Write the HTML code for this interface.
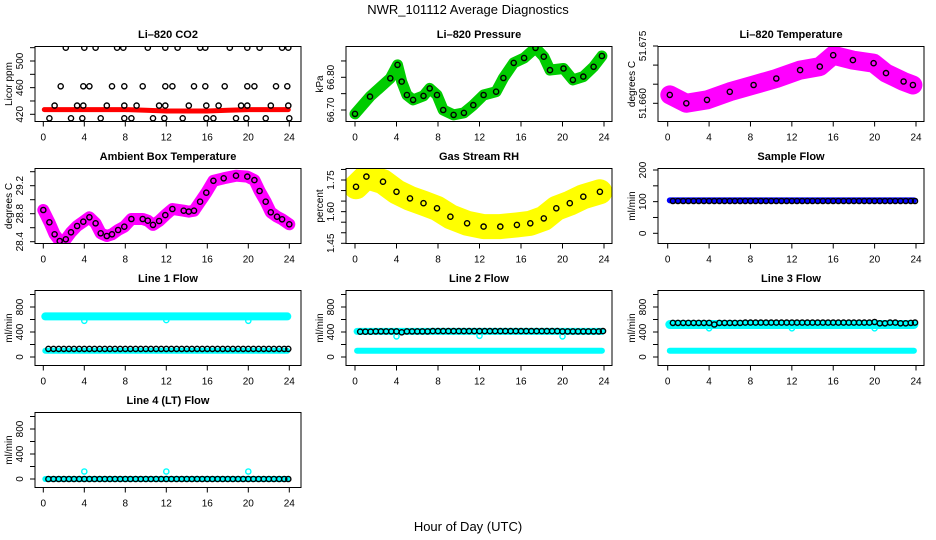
<!DOCTYPE html>
<html><head><meta charset="utf-8"><style>
html,body{margin:0;padding:0;background:#fff;}
svg{display:block;font-family:"Liberation Sans",Arial,sans-serif;}
</style></head><body>
<svg id="chart" width="936" height="540" viewBox="0 0 936 540">
<text x="468" y="14" text-anchor="middle" font-size="13">NWR_101112  Average Diagnostics</text>
<text x="468" y="531" text-anchor="middle" font-size="13">Hour of Day (UTC)</text>
</svg>
<script>
// ---------- data ----------
const xTicks=[0,4,8,12,16,20,24];
const blackHours=[0.5,1.0,1.5,2.0,2.5,3.0,3.5,4.0,4.5,5.0,5.5,6.0,6.5,7.0,7.5,8.0,8.5,9.0,9.5,10.0,10.5,11.0,11.5,12.0,12.5,13.0,13.5,14.0,14.5,15.0,15.5,16.0,16.5,17.0,17.5,18.0,18.5,19.0,19.5,20.0,20.5,21.0,21.5,22.0,22.5,23.0,23.5,23.9];
const outlierHours=[4,12,20];

const co2BandHours=[0.1,2,4,6,8,10,12,14,16,18,20,22,23.9];
const co2BandVals=[427,427,427,427,427,426,425,425,425,426,427,427,427];
const co2PtHours=[2.2,4.0,5.1,7.2,7.8,10.2,11.9,13.1,15.3,15.8,18.2,19.9,21.1,23.3,23.9,
 1.7,3.9,4.5,6.7,7.9,9.7,11.9,12.6,14.7,15.8,17.7,19.9,20.6,22.7,23.8,
 1.1,3.3,3.9,6.2,7.9,9.1,11.3,11.9,14.2,15.9,17.1,19.3,19.9,22.2,23.9,
 0.6,2.7,3.8,5.6,7.9,8.6,10.7,11.8,13.6,15.9,16.6,18.8,19.8,21.7,24.0];
const co2PtVals=[520,520,520,520,520,520,520,520,520,520,520,520,520,520,520,
 462,462,462,462,462,462,462,462,462,462,462,462,462,462,462,
 433,433,433,433,433,433,433,433,433,433,433,433,433,433,433,
 414,414,414,414,414,414,414,414,414,414,414,414,414,414,414];

const presHours=[0,1.45,3.4,4.1,4.5,5,5.6,6.6,7.2,7.9,8.5,9.5,10.5,11.4,12.4,13.6,14.3,15.3,16.3,17.4,18.2,18.8,20.1,21,22,23,23.8];
const presVals=[66.688,66.741,66.797,66.838,66.787,66.746,66.731,66.743,66.766,66.746,66.700,66.685,66.691,66.715,66.746,66.756,66.798,66.844,66.859,66.890,66.863,66.822,66.827,66.792,66.802,66.832,66.865];

const tempHours=[0.2,1.8,3.8,6.0,8.3,10.5,12.8,14.7,16.0,17.9,19.9,21.1,22.8,23.7];
const tempVals=[51.6622,51.6600,51.6609,51.6630,51.6648,51.6665,51.6687,51.6696,51.6726,51.6713,51.6705,51.6679,51.6657,51.6648];

const ambHours=[0,0.6,1.1,1.6,2.2,2.7,3.3,3.9,4.5,5.1,5.6,6.2,6.7,7.3,7.9,8.6,9.7,10.2,10.7,11.3,11.9,12.6,13.7,14.2,14.7,15.3,15.9,16.6,17.6,18.8,19.9,20.6,21.1,21.7,22.2,22.8,23.3,24];
const ambVals=[28.853,28.677,28.506,28.41,28.434,28.534,28.624,28.686,28.749,28.663,28.52,28.481,28.506,28.567,28.614,28.724,28.724,28.70,28.64,28.696,28.78,28.867,28.843,28.83,28.843,28.971,29.10,29.27,29.306,29.343,29.33,29.28,29.124,28.971,28.82,28.757,28.72,28.649];

const rhHours=[0.1,1.1,2.7,4,5.3,6.6,7.9,9.2,10.8,12.4,14,15.6,16.9,18.2,19.4,20.7,22,23.6];
const rhVals=[1.718,1.766,1.742,1.694,1.663,1.640,1.616,1.576,1.545,1.529,1.529,1.537,1.545,1.568,1.616,1.640,1.671,1.694];

const spanHours=[0.2,23.8];
const sampleBandVals=[104,104];
const sampleBlack=[102,102,102,102,102,102,102,102,102,102,102,102,102,102,102,102,102,102,102,102,102,102,102,102,102,102,102,102,102,102,102,102,102,102,102,102,102,102,102,102,102,102,102,102,102,102,102,102];

const line1Upper=[650,650]; const line1Lower=[100,100]; const line1Out=[580,590,580];
const line1Black=[130,130,130,130,130,130,130,130,130,130,130,130,130,130,130,130,130,130,130,130,130,130,130,130,130,130,130,130,130,130,130,130,130,130,130,130,130,130,130,130,130,130,130,130,130,130,130,130];
const line2Upper=[410,410]; const line2Lower=[100,100]; const line2Out=[330,340,330];
const line2Black=[405,405,405,410,410,410,410,410,395,410,410,410,410,410,415,415,415,415,415,415,415,415,415,415,415,415,415,415,415,415,415,415,415,415,415,415,415,415,415,410,410,410,410,410,410,410,410,415];
const line3Upper=[520,520]; const line3Lower=[100,100]; const line3Out=[460,460,460];
const line3Black=[545,545,545,545,545,545,545,545,520,545,545,545,545,545,550,550,550,550,550,550,550,550,550,550,550,550,550,550,550,550,550,550,550,550,550,550,550,550,550,560,540,540,550,550,540,540,545,550];
const line4Upper=[0,0]; const line4Out=[120,120,120];
const line4Black=[0,0,0,0,0,0,0,0,0,0,0,0,0,0,0,0,0,0,0,0,0,0,0,0,0,0,0,0,0,0,0,0,0,0,0,0,0,0,0,0,0,0,0,0,0,0,0,0];

// ---------- layout ----------
const NS="http://www.w3.org/2000/svg";
const svg=document.getElementById('chart');
const cols=[{l:35,r:301,x0:43.3,x24:289.3},{l:346,r:612,x0:355,x24:604},{l:658,r:924,x0:667.7,x24:916}];
const rowTop=[46.5,168.5,290.5,412.5];
const boxH=75;
function mk(tag,attrs,parent){const e=document.createElementNS(NS,tag);for(const k in attrs)e.setAttribute(k,attrs[k]);(parent||svg).appendChild(e);return e;}

const panels=[
 {id:'co2',c:0,r:0,title:'Li\u2013820 CO2',ylab:'Licor ppm',ref:[420,114.3,500,61],ticks:[420,440,460,480,500,520],labels:['420','','460','','500','']},
 {id:'pressure',c:1,r:0,title:'Li\u2013820 Pressure',ylab:'kPa',ref:[66.70,110,66.80,77.3],ticks:[66.70,66.75,66.80,66.85],labels:['66.70','','66.80','']},
 {id:'temperature',c:2,r:0,title:'Li\u2013820 Temperature',ylab:'degrees C',ref:[51.660,103.3,51.675,46],ticks:[51.660,51.665,51.670,51.675],labels:['51.660','','','51.675']},
 {id:'ambient',c:0,r:1,title:'Ambient Box Temperature',ylab:'degrees C',ref:[28.4,241.7,29.2,185.7],ticks:[28.4,28.6,28.8,29.0,29.2,29.4],labels:['28.4','','28.8','','29.2','']},
 {id:'rh',c:1,r:1,title:'Gas Stream RH',ylab:'percent',ref:[1.45,243.3,1.75,180],ticks:[1.45,1.50,1.55,1.60,1.65,1.70,1.75,1.80],labels:['1.45','','','1.60','','','1.75','']},
 {id:'sample',c:2,r:1,title:'Sample Flow',ylab:'ml/min',ref:[0,233.3,200,170],ticks:[0,50,100,150,200],labels:['0','','100','','200']},
 {id:'line1',c:0,r:2,title:'Line 1 Flow',ylab:'ml/min',ref:[0,357,800,307],ticks:[0,200,400,600,800,1000],labels:['0','','400','','800','']},
 {id:'line2',c:1,r:2,title:'Line 2 Flow',ylab:'ml/min',ref:[0,357,800,307],ticks:[0,200,400,600,800,1000],labels:['0','','400','','800','']},
 {id:'line3',c:2,r:2,title:'Line 3 Flow',ylab:'ml/min',ref:[0,357,800,307],ticks:[0,200,400,600,800,1000],labels:['0','','400','','800','']},
 {id:'line4',c:0,r:3,title:'Line 4 (LT) Flow',ylab:'ml/min',ref:[0,479,800,429],ticks:[0,200,400,600,800,1000],labels:['0','','400','','800','']}
];

function drawPanel(p){
 const col=cols[p.c], top=rowTop[p.r], bot=top+boxH;
 const X=h=>col.x0+(col.x24-col.x0)*h/24;
 const Y=v=>p.ref[1]+(v-p.ref[0])*(p.ref[3]-p.ref[1])/(p.ref[2]-p.ref[0]);
 const g=mk('g',{});
 
 
 const cp=mk('clipPath',{id:'clip-'+p.id},g);
 mk('rect',{x:col.l,y:top,width:col.r-col.l,height:boxH},cp);
 const plot=mk('g',{'clip-path':'url(#clip-'+p.id+')'},g);
 
 
 const t=mk('text',{x:(col.l+col.r)/2,y:top-8.5,'text-anchor':'middle','font-size':'11','font-weight':'bold'},g);
 t.textContent=p.title;
 
 
 const yl=mk('text',{x:0,y:0,'text-anchor':'middle','font-size':'10',transform:`translate(${col.l-23},${top+boxH/2}) rotate(-90)`},g);
 yl.textContent=p.ylab;
 
 
 const xa=mk('g',{},g);
 
 
 mk('line',{x1:X(0),x2:X(24),y1:bot,y2:bot,stroke:'#000'},xa);
 xTicks.forEach(h=>{
  mk('line',{x1:X(h),x2:X(h),y1:bot,y2:bot+5,stroke:'#000'},xa);
  const tl=mk('text',{x:X(h),y:bot+19,'text-anchor':'middle','font-size':'10'},xa);
  tl.textContent=h;
 });
 const ya=mk('g',{},g);
 
 
 mk('line',{x1:col.l,x2:col.l,y1:Y(p.ticks[0]),y2:Y(p.ticks[p.ticks.length-1]),stroke:'#000'},ya);
 p.ticks.forEach((v,i)=>{
  mk('line',{x1:col.l-5,x2:col.l,y1:Y(v),y2:Y(v),stroke:'#000'},ya);
  if(p.labels[i]){
   const tl=mk('text',{x:0,y:0,'text-anchor':'middle','font-size':'10',transform:`translate(${col.l-12},${Y(v)}) rotate(-90)`},ya);
   tl.textContent=p.labels[i];
  }
 });
 const bx=mk('rect',{x:col.l,y:top,width:col.r-col.l,height:boxH,fill:'none',stroke:'#000'},g);
 
 
 return {plot,X,Y};
}
function band(ctx,hours,vals,color,w,name){
 const d=hours.map((h,i)=>(i?'L':'M')+ctx.X(h).toFixed(1)+','+ctx.Y(vals[i]).toFixed(1)).join(' ');
 const e=mk('path',{d:d,fill:'none',stroke:color,'stroke-width':w,'stroke-linecap':'round','stroke-linejoin':'round'},ctx.plot);
 
 
}
function pts(ctx,hours,vals,color,name){
 const g=mk('g',{},ctx.plot);
 
 
 hours.forEach((h,i)=>{
  mk('circle',{cx:ctx.X(h).toFixed(1),cy:ctx.Y(vals[i]).toFixed(1),r:2.6,fill:'none',stroke:color,'stroke-width':1.4},g);
 });
}
const P={};panels.forEach(p=>P[p.id]=drawPanel(p));

band(P.co2,co2BandHours,co2BandVals,'#ff0000',5,'co2-red-series');
pts(P.co2,co2PtHours,co2PtVals,'#000','co2-black-points');

band(P.pressure,presHours,presVals,'#00cc00',11,'pressure-green-series');
pts(P.pressure,presHours,presVals,'#000','pressure-black-points');

band(P.temperature,tempHours,tempVals,'#ff00ff',19,'temperature-magenta-series');
pts(P.temperature,tempHours,tempVals,'#000','temperature-black-points');

band(P.ambient,ambHours,ambVals,'#ff00ff',12,'ambient-magenta-series');
pts(P.ambient,ambHours,ambVals,'#000','ambient-black-points');

band(P.rh,rhHours,rhVals,'#ffff00',25,'rh-yellow-series');
pts(P.rh,rhHours,rhVals,'#000','rh-black-points');

band(P.sample,spanHours,sampleBandVals,'#0000ff',6,'sample-blue-series');
pts(P.sample,blackHours,sampleBlack,'#000','sample-black-points');

band(P.line1,spanHours,line1Upper,'#00ffff',8,'line1-cyan-upper');
band(P.line1,spanHours,line1Lower,'#00ffff',6,'line1-cyan-lower');
pts(P.line1,outlierHours,line1Out,'#00ffff','line1-cyan-outliers');
pts(P.line1,blackHours,line1Black,'#000','line1-black-points');

band(P.line2,spanHours,line2Upper,'#00ffff',7,'line2-cyan-upper');
band(P.line2,spanHours,line2Lower,'#00ffff',6,'line2-cyan-lower');
pts(P.line2,outlierHours,line2Out,'#00ffff','line2-cyan-outliers');
pts(P.line2,blackHours,line2Black,'#000','line2-black-points');

band(P.line3,spanHours,line3Upper,'#00ffff',9,'line3-cyan-upper');
band(P.line3,spanHours,line3Lower,'#00ffff',6,'line3-cyan-lower');
pts(P.line3,outlierHours,line3Out,'#00ffff','line3-cyan-outliers');
pts(P.line3,blackHours,line3Black,'#000','line3-black-points');

band(P.line4,spanHours,line4Upper,'#00ffff',6,'line4-cyan-series');
pts(P.line4,outlierHours,line4Out,'#00ffff','line4-cyan-outliers');
pts(P.line4,blackHours,line4Black,'#000','line4-black-points');
</script>
</body></html>
